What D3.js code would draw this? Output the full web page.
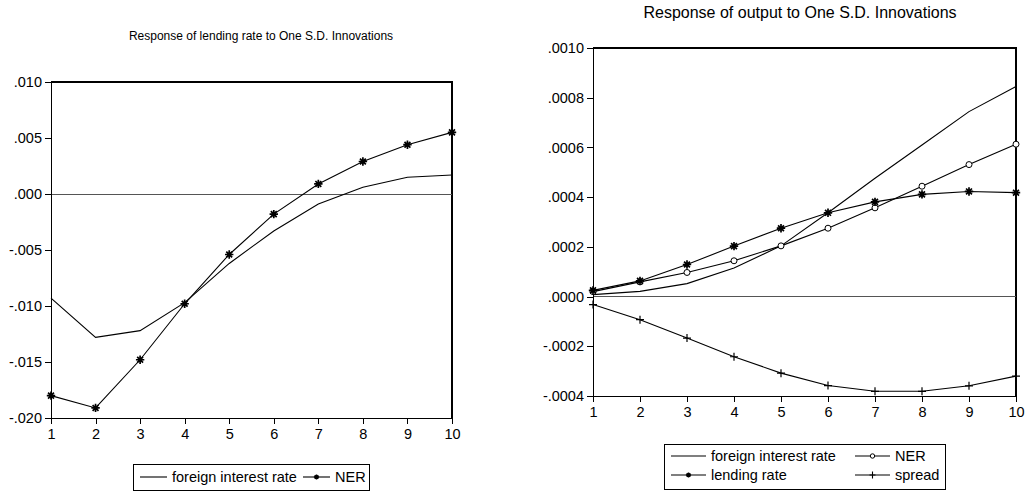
<!DOCTYPE html>
<html>
<head>
<meta charset="utf-8">
<title>Impulse responses</title>
<style>
body { margin: 0; background: #fff; }
svg text { font-family: "Liberation Sans", Arial, sans-serif; fill: #000; }
.axis path, .axis line { stroke: #000; shape-rendering: crispEdges; }
.series { fill: none; stroke: #000; stroke-width: 1.1px; }
.zero { stroke: #555; shape-rendering: crispEdges; }
</style>
</head>
<body>
<svg width="1027" height="492"></svg>
<script src="https://d3js.org/d3.v7.min.js"></script>
<script>

// horizon (periods after the shock)
var periods = [1, 2, 3, 4, 5, 6, 7, 8, 9, 10];

// left panel: response of lending rate
var lendForeign = [-0.0093, -0.0128, -0.0122, -0.0097, -0.0062, -0.0033, -0.0009, 0.0006, 0.0015, 0.0017];
var lendNER     = [-0.0180, -0.0191, -0.0148, -0.0098, -0.0054, -0.0018, 0.0009, 0.0029, 0.0044, 0.0055];
var lendTicks   = [0.010, 0.005, 0.000, -0.005, -0.010, -0.015, -0.020];
var lendLabels  = [".010", ".005", ".000", "-.005", "-.010", "-.015", "-.020"];

// right panel: response of output
var outForeign = [0.000008, 0.000021, 0.000052, 0.000115, 0.000204, 0.000337, 0.000476, 0.000610, 0.000744, 0.000845];
var outNER     = [0.000020, 0.000059, 0.000097, 0.000144, 0.000204, 0.000275, 0.000357, 0.000444, 0.000531, 0.000613];
var outLending = [0.000025, 0.000063, 0.000129, 0.000203, 0.000275, 0.000337, 0.000381, 0.000411, 0.000423, 0.000418];
var outSpread  = [-0.000032, -0.000093, -0.000167, -0.000242, -0.000308, -0.000358, -0.000381, -0.000381, -0.000359, -0.000320];
var outTicks   = [0.0010, 0.0008, 0.0006, 0.0004, 0.0002, 0.0000, -0.0002, -0.0004];
var outLabels  = [".0010", ".0008", ".0006", ".0004", ".0002", ".0000", "-.0002", "-.0004"];

var svg = d3.select("svg");

// marker drawers, centred on 0,0
function starPath(s) {
  var d = s * 0.7;
  return "M" + (-s) + ",0L" + s + ",0M0," + (-s) + "L0," + s +
         "M" + (-d) + "," + (-d) + "L" + d + "," + d +
         "M" + (-d) + "," + d + "L" + d + "," + (-d);
}
function addMarker(g, kind) {
  if (kind == "star") {
    g.append("path").attr("d", starPath(4.2)).attr("stroke", "#000").attr("stroke-width", 1.7);
  } else if (kind == "circle") {
    g.append("circle").attr("r", 3).attr("fill", "#fff").attr("stroke", "#000").attr("stroke-width", 1);
  } else if (kind == "plus") {
    g.append("path").attr("d", "M-4,0L4,0M0,-4L0,4").attr("stroke", "#000").attr("stroke-width", 1.2);
  }
}

function drawPanel(cfg) {
  var x = d3.scaleLinear().domain([1, 10]).range([cfg.x0, cfg.x1]);
  var y = d3.scaleLinear().domain(cfg.domain).range([cfg.y1, cfg.y0]);

  var panel = svg.append("g");

  panel.append("text")
      .attr("x", cfg.titleX)
      .attr("y", cfg.titleY)
      .attr("text-anchor", "middle")
      .style("font-size", cfg.titleSize + "px")
      .text(cfg.title);

  // frame: top and right sides
  panel.append("path")
      .attr("d", "M" + cfg.x0 + "," + cfg.y0 + "L" + cfg.x1 + "," + cfg.y0 + "L" + cfg.x1 + "," + cfg.y1)
      .attr("fill", "none").attr("stroke", "#000").attr("stroke-width", 1.6)
      .style("shape-rendering", "crispEdges");

  panel.append("line").attr("class", "zero")
      .attr("x1", cfg.x0).attr("x2", cfg.x1)
      .attr("y1", y(0)).attr("y2", y(0));

  var yAxis = d3.axisLeft(y).tickValues(cfg.ticks).tickSize(6).tickPadding(3)
      .tickFormat(function(d, i) { return cfg.labels[i]; });
  panel.append("g").attr("class", "axis")
      .attr("transform", "translate(" + cfg.x0 + ",0)")
      .call(yAxis)
      .call(function(g) { g.selectAll("text").style("font-size", "14.5px").attr("font-family", null); });

  var xAxis = d3.axisBottom(x).tickValues(periods).tickSize(6).tickPadding(5).tickFormat(d3.format("d"));
  panel.append("g").attr("class", "axis")
      .attr("transform", "translate(0," + cfg.y1 + ")")
      .call(xAxis)
      .call(function(g) { g.selectAll("text").style("font-size", "14.5px").attr("font-family", null); });

  var line = d3.line().x(function(d, i) { return x(periods[i]); }).y(function(d) { return y(d); });

  cfg.series.forEach(function(s) {
    panel.append("path").attr("class", "series").attr("d", line(s.values));
    if (s.marker) {
      panel.append("g").selectAll("g")
        .data(s.values)
        .enter().append("g")
          .attr("transform", function(d, i) { return "translate(" + x(periods[i]) + "," + y(d) + ")"; })
          .each(function() { addMarker(d3.select(this), s.marker); });
    }
  });

  // legend box
  var lg = cfg.legend;
  panel.append("rect")
      .attr("x", lg.x).attr("y", lg.y).attr("width", lg.w).attr("height", lg.h)
      .attr("fill", "#fff").attr("stroke", "#000").attr("stroke-width", 1)
      .style("shape-rendering", "crispEdges");
  cfg.series.forEach(function(s, i) {
    var p = lg.items[i];
    var item = panel.append("g").attr("transform", "translate(" + p[0] + "," + p[1] + ")");
    item.append("line").attr("x1", 0).attr("x2", lg.sample).attr("y1", 0).attr("y2", 0)
        .attr("stroke", "#000").attr("stroke-width", 1.1);
    if (s.marker) {
      var m = item.append("g").attr("transform", "translate(" + (lg.sample / 2) + ",0)");
      if (s.marker == "star") {
        m.append("path").attr("d", starPath(2.6)).attr("stroke", "#000").attr("stroke-width", 1.3);
      } else if (s.marker == "circle") {
        m.append("circle").attr("r", 2.2).attr("fill", "#fff").attr("stroke", "#000");
      } else {
        m.append("path").attr("d", "M-3,0L3,0M0,-3.5L0,3.5").attr("stroke", "#000").attr("stroke-width", 1.1);
      }
    }
    item.append("text").attr("x", lg.sample + 5).attr("y", 5)
        .style("font-size", "14.5px").text(s.name);
  });
}

drawPanel({
  title: "Response of lending rate to One S.D. Innovations",
  titleX: 261, titleY: 40, titleSize: 12,
  x0: 51, x1: 452, y0: 82, y1: 418,
  domain: [-0.020, 0.010],
  ticks: lendTicks, labels: lendLabels,
  series: [
    { name: "foreign interest rate", values: lendForeign, marker: null },
    { name: "NER", values: lendNER, marker: "star" }
  ],
  legend: { x: 133, y: 464, w: 236, h: 26, sample: 27, items: [[140, 477], [303, 477]] }
});

drawPanel({
  title: "Response of output to One S.D. Innovations",
  titleX: 800, titleY: 18, titleSize: 16,
  x0: 593, x1: 1016, y0: 48, y1: 396,
  domain: [-0.0004, 0.0010],
  ticks: outTicks, labels: outLabels,
  series: [
    { name: "foreign interest rate", values: outForeign, marker: null },
    { name: "NER", values: outNER, marker: "circle" },
    { name: "lending rate", values: outLending, marker: "star" },
    { name: "spread", values: outSpread, marker: "plus" }
  ],
  legend: { x: 664, y: 444, w: 281, h: 45, sample: 35, items: [[671, 456], [855, 456], [671, 475], [855, 475]] }
});

</script>
</body>
</html>
